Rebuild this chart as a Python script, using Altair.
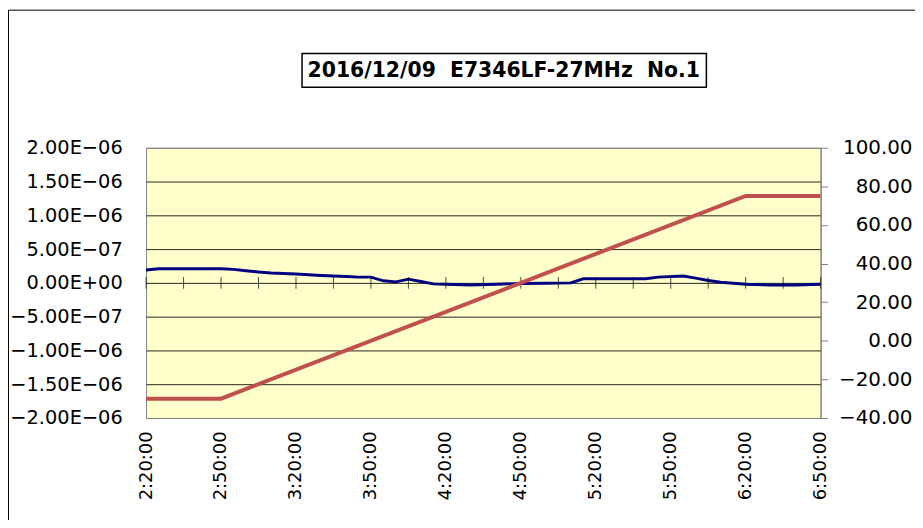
import altair as alt
import pandas as pd

# ---- data ----
blue_times = ["2:20", "2:25", "2:30", "2:40", "2:50", "2:55", "3:00", "3:05", "3:10",
              "3:20", "3:30", "3:40", "3:45", "3:50", "3:55", "4:00", "4:05", "4:10",
              "4:15", "4:20", "4:30", "4:40", "4:50", "5:00", "5:10", "5:15", "5:30",
              "5:40", "5:45", "5:55", "6:00", "6:05", "6:10", "6:20", "6:30", "6:40", "6:50"]
blue_vals = [1.9e-7, 2.1e-7, 2.1e-7, 2.1e-7, 2.1e-7, 2.0e-7, 1.8e-7, 1.6e-7, 1.45e-7,
             1.3e-7, 1.1e-7, 0.95e-7, 0.85e-7, 0.85e-7, 0.3e-7, 0.15e-7, 0.55e-7, 0.2e-7,
             -0.15e-7, -0.2e-7, -0.3e-7, -0.2e-7, -0.1e-7, -0.05e-7, 0.0, 0.6e-7, 0.6e-7,
             0.6e-7, 0.85e-7, 1.0e-7, 0.7e-7, 0.35e-7, 0.1e-7, -0.2e-7, -0.3e-7, -0.3e-7, -0.2e-7]

red_times = ["2:20", "2:50", "6:20", "6:50"]
red_vals = [-30, -30, 75, 75]

tick_times = ["2:20", "2:35", "2:50", "3:05", "3:20", "3:35", "3:50", "4:05", "4:20", "4:35",
              "4:50", "5:05", "5:20", "5:35", "5:50", "6:05", "6:20", "6:35", "6:50"]
label_times = ["2:20", "2:50", "3:20", "3:50", "4:20", "4:50", "5:20", "5:50", "6:20", "6:50"]

left_ticks = [-2e-6, -1.5e-6, -1e-6, -5e-7, 0, 5e-7, 1e-6, 1.5e-6, 2e-6]
right_ticks = [-40, -20, 0, 20, 40, 60, 80, 100]

title_text = "2016/12/09\u00a0 E7346LF-27MHz\u00a0 No.1"


def to_min(t):
    h, m = t.split(":")
    return int(h) * 60 + int(m)


blue_df = pd.DataFrame({"t": [to_min(t) for t in blue_times], "f": blue_vals})
red_df = pd.DataFrame({"t": [to_min(t) for t in red_times], "temp": red_vals})
tick_df = pd.DataFrame({"t": [to_min(t) for t in tick_times], "z": [0.0] * len(tick_times)})

W, H = 679, 272
FONT = "DejaVu Sans"

x_scale = alt.Scale(domain=[140, 410], nice=False, zero=False)
x_axis = alt.Axis(
    values=[to_min(t) for t in label_times],
    labelExpr="floor(datum.value/60) + ':' + (datum.value%60 < 10 ? '0' : '') + (datum.value%60) + ':00'",
    labelAngle=270, labelAlign="right", labelBaseline="middle",
    labelPadding=13, tickSize=0, ticks=False, domain=False, grid=False,
    labelFontSize=18, labelFont=FONT, labelColor="black",
    labelOverlap=False, labelFlush=False, title=None,
)


def xe():
    return alt.X("t:Q", scale=x_scale, axis=x_axis)


left_scale = alt.Scale(domain=[-2e-6, 2e-6], nice=False, zero=False)
left_axis = alt.Axis(
    values=left_ticks,
    labelExpr="(datum.value < -1e-12 ? '\u2212' : '') + format(abs(datum.value) >= 9.9e-7 ? abs(datum.value)*1e6 : abs(datum.value)*1e7, '.2f') + (abs(datum.value) < 1e-12 ? 'E+00' : (abs(datum.value) >= 9.9e-7 ? 'E\u221206' : 'E\u221207'))",
    grid=True,
    gridColor={"condition": {"test": "abs(datum.value) > 1.9e-6", "value": "#808080"}, "value": "#000000"},
    gridWidth=1, gridOpacity=0.85,
    domain=False, ticks=False, tickSize=0, labelPadding=24,
    labelFontSize=19.5, labelFont=FONT, labelColor="black",
    labelOverlap=False, labelFlush=False, title=None, orient="left",
)

blue = alt.Chart(blue_df).mark_line(color="#000080", strokeWidth=3).encode(
    x=xe(),
    y=alt.Y("f:Q", scale=left_scale, axis=left_axis),
)

ticks = alt.Chart(tick_df).mark_tick(orient="vertical", size=12, thickness=1, color="black").encode(
    x=xe(),
    y=alt.Y("z:Q", scale=left_scale, axis=left_axis),
)

one = alt.Data(values=[{"a": 1}])
border = alt.Chart(one).mark_rect(filled=False, stroke="black", strokeWidth=1).encode(
    x=alt.value(-138.5), x2=alt.value(1200), y=alt.value(-138.5), y2=alt.value(900)
)
title_box = alt.Chart(one).mark_rect(filled=False, stroke="black", strokeWidth=1.5).encode(
    x=alt.value(157), x2=alt.value(564), y=alt.value(-95), y2=alt.value(-61)
)
title = alt.Chart(one).mark_text(
    text=title_text, font=FONT, fontSize=20.5, fontWeight="bold", color="black",
    align="center", baseline="middle",
).encode(x=alt.value(360), y=alt.value(-77))

left_layer = alt.layer(blue, ticks, border, title_box, title)

red = alt.Chart(red_df).mark_line(color="#C0504D", strokeWidth=4).encode(
    x=xe(),
    y=alt.Y(
        "temp:Q",
        scale=alt.Scale(domain=[-40, 100], nice=False, zero=False),
        axis=alt.Axis(
            orient="right", values=right_ticks, format=".2f", grid=False,
            domain=True, domainColor="#808080", ticks=True, tickColor="#808080",
            tickSize=7, labelPadding=85, labelAlign="right", labelFontSize=20,
            labelFont=FONT, labelColor="black", labelOverlap=False,
            labelFlush=False, title=None,
        ),
    ),
)

chart = alt.layer(left_layer, red).resolve_scale(y="independent").properties(
    width=W, height=H,
    autosize=alt.AutoSizeParams(type="none"),
    padding={"left": 139, "top": 139, "right": 95, "bottom": 101},
    background="white",
).configure_view(fill="#FFFFCC", stroke="#808080", strokeWidth=1)

chart.save("out.html", embed_options={"renderer": "svg", "actions": False})
